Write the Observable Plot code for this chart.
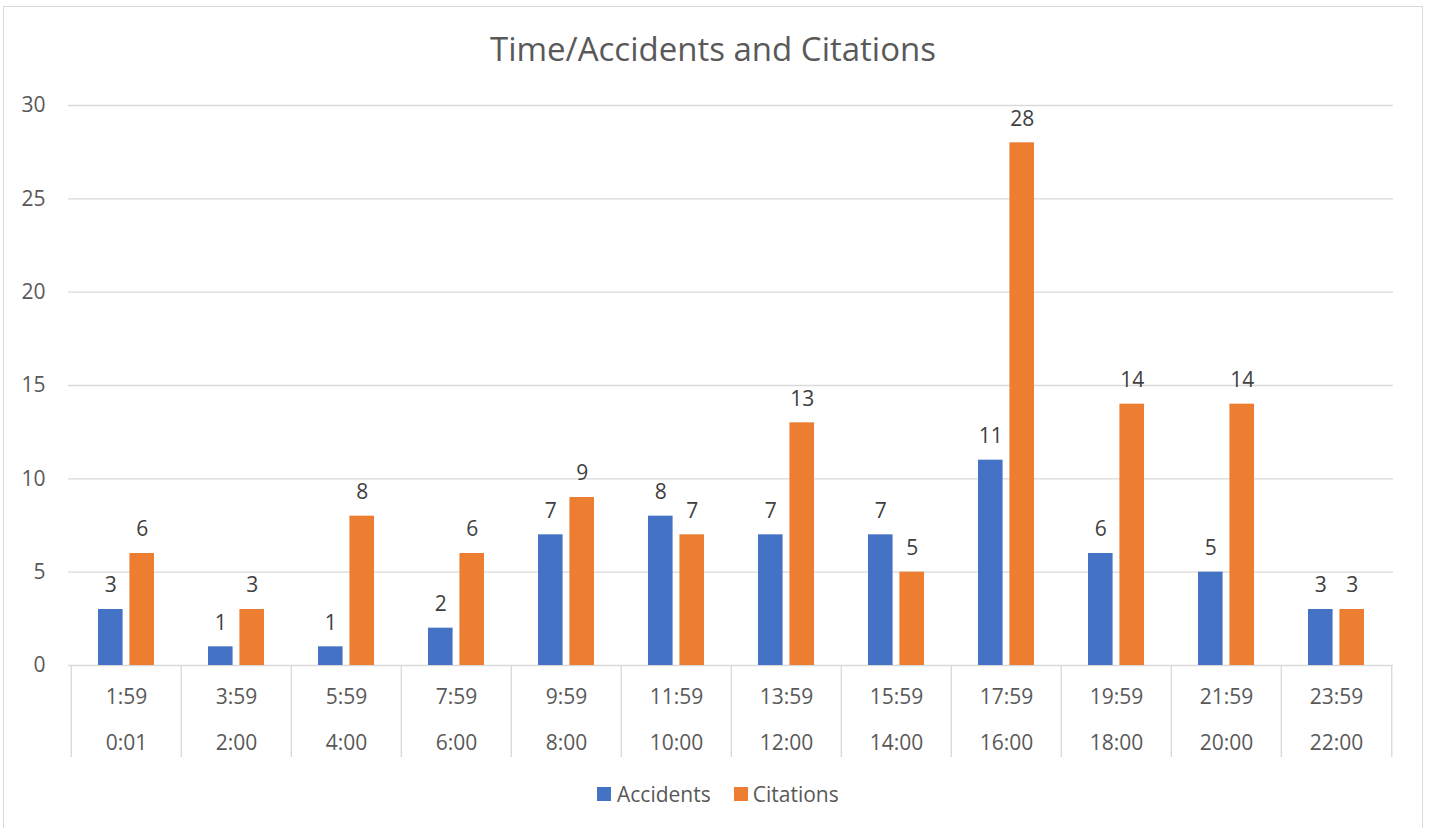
<!DOCTYPE html>
<html>
<head>
<meta charset="utf-8">
<script src="https://cdn.jsdelivr.net/npm/d3@7"></script>
<script src="https://cdn.jsdelivr.net/npm/@observablehq/plot@0.6"></script>
<style>
  html, body { margin: 0; padding: 0; background: #fff; }
  #wrap { position: relative; width: 1431px; height: 828px; overflow: hidden; font-family: "Open Sans", sans-serif; }
  #border { position: absolute; left: 3px; top: 6px; width: 1420px; height: 840px; border: 1.5px solid #d9d9d9; box-sizing: border-box; }
  #title { position: absolute; left: 0; width: 1426px; top: 29px; text-align: center; font-size: 33px; line-height: 40px; color: #595959; }
  #chart { position: absolute; left: 0; top: 70px; }
  #legend { position: absolute; left: 597px; top: 780px; display: flex; align-items: center; font-size: 21px; line-height: 28px; color: #595959; }
  .sw { width: 14px; height: 14px; display: inline-block; }
</style>
</head>
<body>
<div id="wrap">
  <div id="border"></div>
  <div id="title">Time/Accidents and Citations</div>
  <div id="chart"></div>
  <div id="legend"></div>
</div>
<script>
const categoriesStart = ["0:01","2:00","4:00","6:00","8:00","10:00","12:00","14:00","16:00","18:00","20:00","22:00"];
const categoriesEnd = ["1:59","3:59","5:59","7:59","9:59","11:59","13:59","15:59","17:59","19:59","21:59","23:59"];
const accidents = [3,1,1,2,7,8,7,7,11,6,5,3];
const citations = [6,3,8,6,9,7,13,5,28,14,14,3];
const yTicks = [0,5,10,15,20,25,30];
const seriesNames = ["Accidents", "Citations"];
const seriesColors = ["#4472C4", "#ED7D31"];

const rows = [];
categoriesStart.forEach((c, i) => {
  rows.push({time: c, series: "Accidents", value: accidents[i]});
  rows.push({time: c, series: "Citations", value: citations[i]});
});
const accRows = rows.filter(d => d.series === "Accidents");
const citRows = rows.filter(d => d.series === "Citations");

const W = 1431, H = 700;
const mL = 68, mR = 38, mT = 35, mB = 13;
const bw = (W - mL - mR) / categoriesStart.length;
const barW = 25, gap = 6.4;
const outer = (bw - 2 * barW - gap) / 2;
const labelOff = (barW + gap) / 2;

const chart = Plot.plot({
  width: W,
  height: H,
  marginLeft: mL,
  marginRight: mR,
  marginTop: mT,
  marginBottom: mB,
  style: {fontFamily: "Open Sans, sans-serif", fontSize: "21px", color: "#595959", background: "transparent"},
  x: {domain: categoriesStart, padding: 0, axis: null},
  y: {domain: [0, 30], range: [665 - 70, 105 - 70], ticks: yTicks, tickSize: 0, tickPadding: 23, label: null},
  color: {domain: seriesNames, range: seriesColors},
  marks: [
    Plot.ruleY(yTicks, {stroke: "#d9d9d9", strokeWidth: 1.3}),
    Plot.ruleX(categoriesStart, {x: d => d, dx: -bw / 2, insetTop: 560, stroke: "#d9d9d9", strokeWidth: 1.3}),
    Plot.ruleX([categoriesStart[categoriesStart.length - 1]], {x: d => d, dx: bw / 2, insetTop: 560, stroke: "#d9d9d9", strokeWidth: 1.3}),
    Plot.barY(accRows, {x: "time", y: "value", fill: "series", insetLeft: outer, insetRight: bw - outer - barW}),
    Plot.barY(citRows, {x: "time", y: "value", fill: "series", insetLeft: bw - outer - barW, insetRight: outer}),
    Plot.text(accRows, {x: "time", y: "value", text: d => String(d.value), dx: -labelOff, dy: -24, fill: "#404040"}),
    Plot.text(citRows, {x: "time", y: "value", text: d => String(d.value), dx: labelOff, dy: -24, fill: "#404040"}),
    Plot.text(categoriesStart, {x: d => d, text: (d, i) => categoriesEnd[i], frameAnchor: "bottom", lineAnchor: "middle", dy: -60, fill: "#595959"}),
    Plot.text(categoriesStart, {x: d => d, text: d => d, frameAnchor: "bottom", lineAnchor: "middle", dy: -14, fill: "#595959"})
  ]
});
document.getElementById("chart").appendChild(chart);

const legend = document.getElementById("legend");
seriesNames.forEach((name, i) => {
  const sw = document.createElement("span");
  sw.className = "sw";
  sw.style.background = seriesColors[i];
  sw.style.marginRight = i === 0 ? "6px" : "5px";
  const t = document.createElement("span");
  t.textContent = name;
  t.style.marginRight = i === 0 ? "23px" : "0";
  legend.appendChild(sw);
  legend.appendChild(t);
});
</script>
</body>
</html>
